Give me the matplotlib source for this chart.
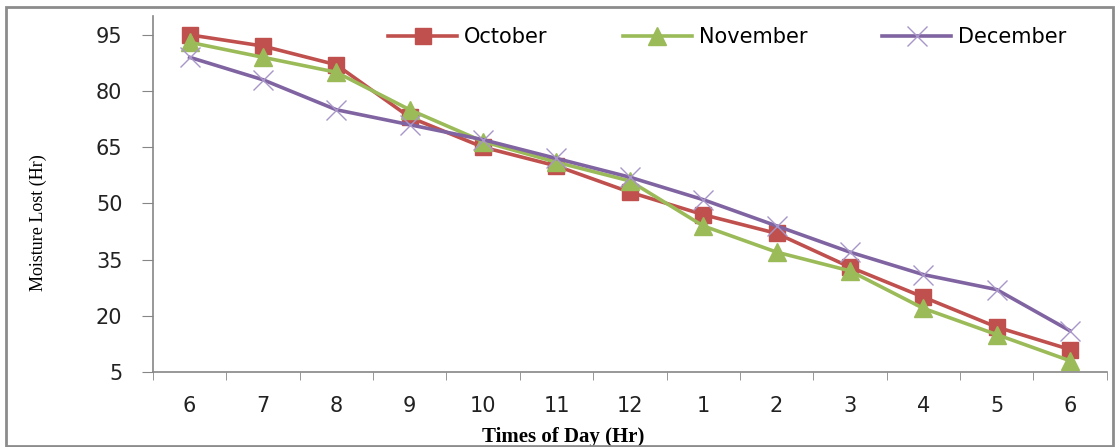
import matplotlib
matplotlib.use("Agg")
import matplotlib.pyplot as plt
from matplotlib.patches import Rectangle
import numpy as np

# Hours of the day and moisture lost per month
hours = ["6", "7", "8", "9", "10", "11", "12", "1", "2", "3", "4", "5", "6"]
october = [95, 92, 87, 73, 65, 60, 53, 47, 42, 33, 25, 17, 11]
november = [93, 89, 85, 75, 66.5, 61, 56, 44, 37, 32, 22, 15, 8]
december = [89, 83, 75, 71, 67, 62, 57, 51, 44, 37, 31, 27, 16]

y_ticks = [5, 20, 35, 50, 65, 80, 95]

fig = plt.figure(figsize=(11.19, 4.47), dpi=100)
ax = fig.add_axes([0.1367, 0.1678, 0.8523, 0.7962])

x = np.arange(len(hours))
ax.plot(x, october, color="#C0504D", lw=2.6, marker="s", ms=12,
        label="October")
ax.plot(x, november, color="#9BBB59", lw=2.6, marker="^", ms=13,
        label="November")
ax.plot(x, december, color="#8064A2", lw=2.6, marker="x", ms=14,
        mew=1.0, mec="#A996C8", label="December")

ax.set_xlim(-0.5, len(hours) - 0.5)
ax.set_ylim(5, 100)
ax.set_yticks(y_ticks)
ax.set_xticks(x)
ax.set_xticklabels(hours)
ax.set_xticks(np.arange(-0.5, len(hours)), minor=True)
ax.tick_params(axis="x", which="major", length=0, pad=17, labelsize=15,
               labelcolor="#222222")
ax.tick_params(axis="x", which="minor", length=6, color="#868686")
ax.tick_params(axis="y", length=8, color="#868686", labelsize=15, pad=14,
               labelcolor="#222222")

for s in ["top", "right"]:
    ax.spines[s].set_visible(False)
for s in ["left", "bottom"]:
    ax.spines[s].set_color("#868686")
    ax.spines[s].set_linewidth(1.2)

ax.set_ylabel("Moisture Lost (Hr)", family="Liberation Serif", fontsize=13)
ax.yaxis.set_label_coords(-0.111, 0.419)
ax.set_xlabel("Times of Day (Hr)", family="Liberation Serif", fontsize=15,
              fontweight="bold")
ax.xaxis.set_label_coords(0.43, -0.155)

ax.legend(loc="center right", ncol=3, frameon=False, fontsize=15,
          bbox_to_anchor=(0.958, 0.941), borderaxespad=0, borderpad=0,
          columnspacing=3.6, handlelength=3.3, handletextpad=0.35)

# Grey frame round the whole chart
fig.patches.append(Rectangle((0.005, 0.003), 0.99, 0.982, fill=False,
                             edgecolor="#8c8c8c", lw=2,
                             transform=fig.transFigure, figure=fig))

fig.savefig("out.png", dpi=100)
